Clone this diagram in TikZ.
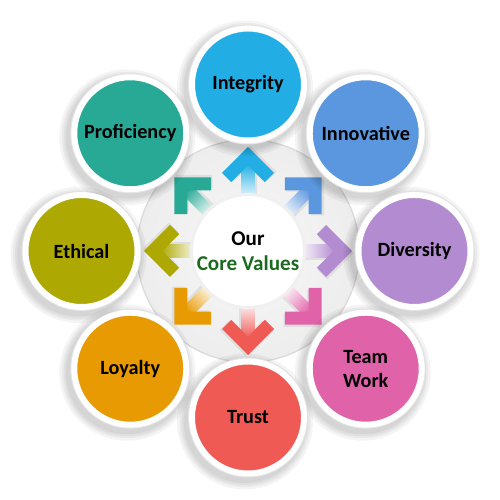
\documentclass[tikz,border=0pt]{standalone}
\usepackage{fontspec}
\setmainfont{Carlito}
\usepackage{xcolor}
\definecolor{valInteg}{HTML}{22AEE4}
\definecolor{valInnov}{HTML}{5B97DF}
\definecolor{valDiver}{HTML}{B38BD0}
\definecolor{valTeam}{HTML}{E062A9}
\definecolor{valTrust}{HTML}{F05A55}
\definecolor{valLoyal}{HTML}{E89A02}
\definecolor{valEthic}{HTML}{ADA802}
\definecolor{valProfi}{HTML}{28A996}
\definecolor{coreGreen}{HTML}{1C6A1F}
\usepackage{tikz}
\usetikzlibrary{calc}

\begin{document}
\begin{tikzpicture}[
  valuedisc/.style={circle, minimum size=2.24cm, inner sep=0pt, draw=white,
    line width=3.4pt, align=center, font=\fontsize{11.5}{13.5}\selectfont\bfseries},
  discrim/.style={fill=gray!22},
  discshadow/.style={fill=black, opacity=0.045}
]
  \useasboundingbox (0,0) rectangle (10,10);
  % centre of the whole figure
  \coordinate (O) at (4.96,4.98);
  % light grey ring round the centre
  \fill[gray!28] (O) circle (2.24);
  \shade[inner color=gray!6, outer color=gray!14] (O) circle (2.21);
  % arrows from the centre outwards: fading shaft, solid chevron head
  \foreach \a/\col in {90/valInteg, 45/valInnov, 0/valDiver, -45/valTeam,
                       -90/valTrust, -135/valLoyal, 180/valEthic, 135/valProfi}{
    \begin{scope}[shift={(O)}, rotate=\a]
      \fill[black, opacity=0.07, shift={(0.02,-0.05)}]
        (2.08,0) -- (1.56,0.52) -- (1.376,0.336) -- (1.582,0.13) -- (1.0,0.13)
        -- (1.0,-0.13) -- (1.582,-0.13) -- (1.376,-0.336) -- (1.56,-0.52) -- cycle;
      \shade[top color=\col, middle color=\col!70!white, bottom color=white, shading angle=\a-90]
        (1.0,-0.13) -- (1.75,-0.13) -- (1.75,0.13) -- (1.0,0.13) -- cycle;
      \fill[\col]
        (2.08,0) -- (1.56,0.52) -- (1.376,0.336) -- (1.712,0)
        -- (1.376,-0.336) -- (1.56,-0.52) -- cycle;
    \end{scope}
  }
  % white centre disc
  \fill[gray!12] (O) circle (1.16);
  \fill[white] (O) circle (1.1);
  \node[align=center, font=\fontsize{12}{14.2}\selectfont\bfseries] (core) at (O)
    {Our\\\textcolor{coreGreen}{Core Values}};
  % shadows and rims of the eight value discs
  \foreach \a in {90,45,0,-45,-90,-135,180,135}{
    \foreach \r in {1.36,1.31,1.27,1.23}
      \fill[discshadow] ($(O)+(\a:3.33)+(-0.06,-0.08)$) circle (\r);
    \fill[discrim] ($(O)+(\a:3.33)$) circle (1.2);
  }
  % the eight values
  \node[valuedisc, fill=valInteg] (integrity)   at ($(O)+(90:3.33)$)   {Integrity};
  \node[valuedisc, fill=valInnov] (innovative)  at ($(O)+(45:3.33)$)   {Innovative};
  \node[valuedisc, fill=valDiver] (diversity)   at ($(O)+(0:3.33)$)    {Diversity};
  \node[valuedisc, fill=valTeam]  (teamwork)    at ($(O)+(-45:3.33)$)  {Team\\Work};
  \node[valuedisc, fill=valTrust] (trust)       at ($(O)+(-90:3.33)$)  {Trust};
  \node[valuedisc, fill=valLoyal] (loyalty)     at ($(O)+(-135:3.33)$) {Loyalty};
  \node[valuedisc, fill=valEthic] (ethical)     at ($(O)+(180:3.33)$)  {Ethical};
  \node[valuedisc, fill=valProfi] (proficiency) at ($(O)+(135:3.33)$)  {Proficiency};
\end{tikzpicture}
\end{document}
